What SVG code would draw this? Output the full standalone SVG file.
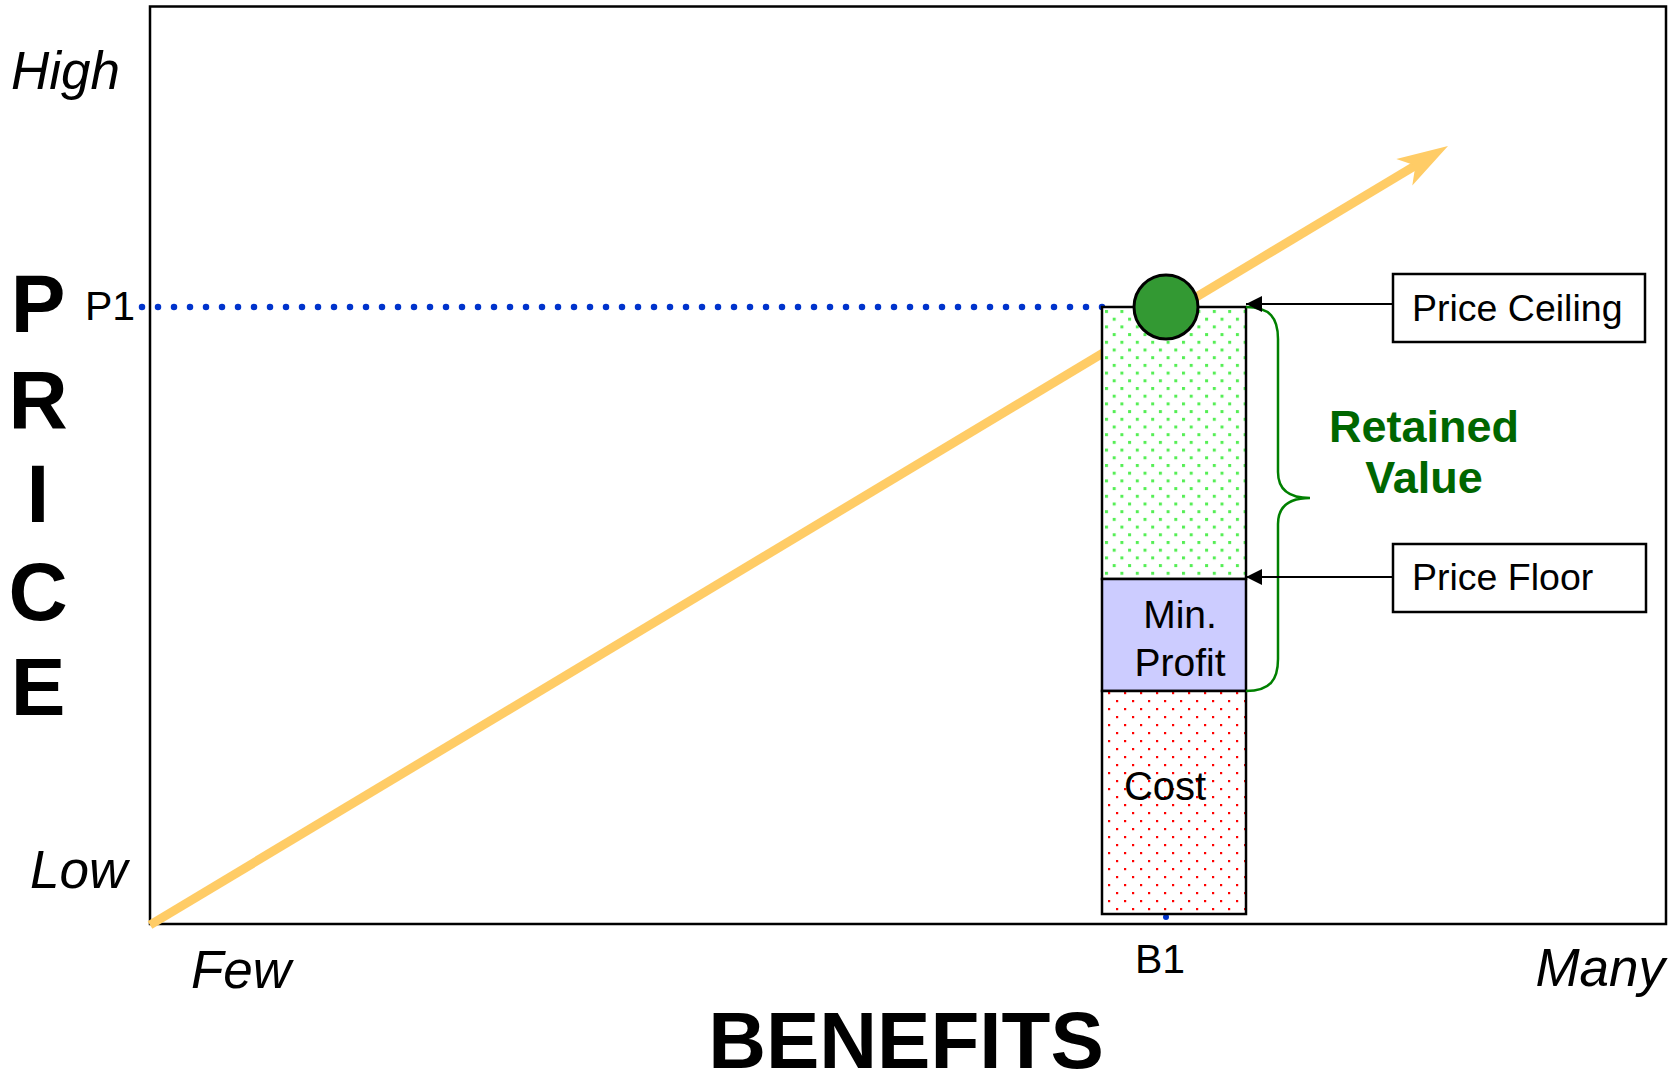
<svg xmlns="http://www.w3.org/2000/svg" width="1676" height="1075" viewBox="0 0 1676 1075">
<style>
text{font-family:"Liberation Sans",Arial,sans-serif;fill:#000}
.it{font-style:italic;font-size:53px}
.big{font-weight:bold;font-size:82px}
.lbl{font-size:37.5px}
.val{font-weight:bold;font-size:45px;fill:#006600}
.blk{stroke:#000;stroke-width:2.5}
.ptr{stroke:#000;stroke-width:2;fill:none}
</style>
<defs>
<pattern id="pg" width="15.4" height="15.4" patternUnits="userSpaceOnUse" x="1105" y="310">
<rect x="0" y="0" width="3" height="3" fill="#55ee55"/>
<rect x="7.7" y="7.7" width="3" height="3" fill="#55ee55"/>
</pattern>
<pattern id="pr" width="16" height="16" patternUnits="userSpaceOnUse" x="1108" y="692">
<rect x="0" y="0" width="2.2" height="2.2" fill="#ff0000"/>
<rect x="8" y="8" width="2.2" height="2.2" fill="#ff0000"/>
</pattern>
<marker id="ah" viewBox="0 0 16 16" refX="16" refY="8" markerWidth="16" markerHeight="16" markerUnits="userSpaceOnUse" orient="auto">
<path d="M0,0 L16,8 L0,16 Z" fill="#000"/>
</marker>
</defs>
<rect width="1676" height="1075" fill="#fff"/>
<g id="frame">
<rect x="150" y="6.5" width="1516" height="917.5" fill="none" stroke="#000" stroke-width="2.5"/>
</g>
<g id="axis-labels">
<text class="it" x="11" y="89">High</text>
<text class="it" x="30" y="888">Low</text>
<text class="it" x="191" y="988">Few</text>
<text class="it" x="1665" y="986" text-anchor="end">Many</text>
<text class="big" x="38" y="332" text-anchor="middle">P</text>
<text class="big" x="38" y="428" text-anchor="middle">R</text>
<text class="big" x="38" y="522" text-anchor="middle">I</text>
<text class="big" x="38" y="620" text-anchor="middle">C</text>
<text class="big" x="38" y="715" text-anchor="middle">E</text>
<text x="906" y="1068" text-anchor="middle" style="font-weight:bold;font-size:80px">BENEFITS</text>
<text x="85" y="320" style="font-size:41px">P1</text>
<text x="1160" y="973" text-anchor="middle" style="font-size:41px">B1</text>
</g>
<g id="connectors">
<line x1="150" y1="925" x2="1418" y2="164" stroke="#ffcc66" stroke-width="9"/>
<path d="M1448,146 L1396.3,159 L1415.4,165.6 L1412.3,185.6 Z" fill="#ffcc66"/>
<line x1="142" y1="307" x2="1103" y2="307" stroke="#0033cc" stroke-width="6.5" stroke-linecap="round" stroke-dasharray="0 16"/>
<circle cx="1166" cy="917" r="3" fill="#0033cc"/>
</g>
<g id="column">
<g id="retained">
<rect x="1102" y="307" width="144" height="272" fill="#fff"/>
<rect x="1102" y="307" width="144" height="272" class="blk" style="fill:url(#pg)"/>
</g>
<g id="min-profit">
<rect x="1102" y="579" width="144" height="112" class="blk" style="fill:#ccccff"/>
<text x="1180" y="628" text-anchor="middle" style="font-size:39px">Min.</text>
<text x="1180" y="676" text-anchor="middle" style="font-size:39px">Profit</text>
</g>
<g id="cost">
<rect x="1102" y="691" width="144" height="223" fill="#fff"/>
<rect x="1102" y="691" width="144" height="223" class="blk" style="fill:url(#pr)"/>
<text x="1165" y="800" text-anchor="middle" style="font-size:40px">Cost</text>
</g>
</g>
<g id="point">
<circle cx="1166" cy="307" r="32" fill="#339933" stroke="#000" stroke-width="3"/>
</g>
<g id="brace">
<path d="M1246,307 C1270,307 1278,318 1278,339 L1278,472 C1278,490 1290,498 1310,498 C1290,498 1278,506 1278,524 L1278,659 C1278,680 1270,691 1246,691" fill="none" stroke="#008000" stroke-width="2.5"/>
<text class="val" x="1424" y="442" text-anchor="middle">Retained</text>
<text class="val" x="1424" y="493" text-anchor="middle">Value</text>
</g>
<g id="arrows">
<line class="ptr" x1="1393" y1="304" x2="1246" y2="304" marker-end="url(#ah)"/>
<line class="ptr" x1="1393" y1="577" x2="1246" y2="577" marker-end="url(#ah)"/>
</g>
<g id="price-ceiling">
<rect x="1393" y="274" width="252" height="68" fill="#fff" stroke="#000" stroke-width="2.5"/>
<text class="lbl" x="1412" y="321">Price Ceiling</text>
</g>
<g id="price-floor">
<rect x="1393" y="544" width="253" height="68" fill="#fff" stroke="#000" stroke-width="2.5"/>
<text class="lbl" x="1412" y="590">Price Floor</text>
</g>
</svg>
